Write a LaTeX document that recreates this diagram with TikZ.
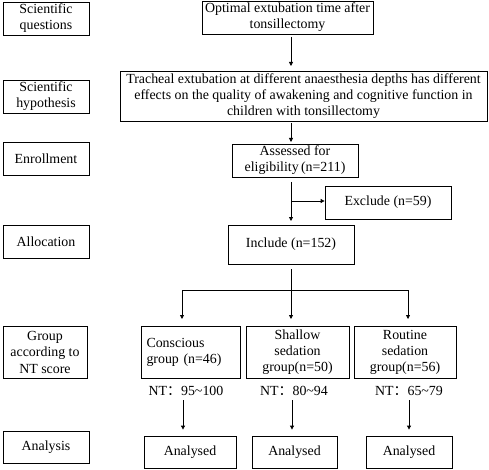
\documentclass[tikz,border=0pt]{standalone}
\usepackage{fontspec}
\setmainfont{Liberation Serif}
\newfontfamily\cjk{Noto Sans CJK SC}
\usetikzlibrary{arrows.meta}

\tikzset{
    stagebox/.style={draw, thick, align=center, inner sep=1pt, minimum width=86pt, minimum height=33pt},
    flowbox/.style={draw, thick, align=center, inner sep=1pt, minimum height=33pt},
    flowarrow/.style={thick, -{Triangle[length=4pt, width=4pt]}},
    flowline/.style={thick},
}
\newcommand{\ntlabel}[1]{NT{\cjk ：}#1}

\begin{document}
\begin{tikzpicture}[x=1pt, y=-1pt, font=\fontsize{13.9}{16}\selectfont]
    \useasboundingbox (0,0) rectangle (489,470);
    % stages on the left
    \node[stagebox] (stQuestion) at (46, 18.5) {Scientific\\questions};
    \node[stagebox] (stHypothesis) at (46, 96.5) {Scientific\\hypothesis};
    \node[stagebox] (stEnroll) at (46, 158.5) {Enrollment};
    \node[stagebox] (stAlloc) at (46, 241.5) {Allocation};
    \node[stagebox, minimum width=84pt, minimum height=52pt, font=\fontsize{13.9}{16.5}\selectfont] (stGroup) at (45, 352) {Group\\according to\\NT score};
    \node[stagebox, minimum height=32pt] (stAnalysis) at (46, 447) {Analysis};
    % flow on the right
    \node[flowbox, minimum width=171pt] (question) at (287.5, 17.5) {Optimal extubation time after\\tonsillectomy};
    \node[flowbox, minimum width=367pt, minimum height=50pt] (hypothesis) at (303.5, 96) {Tracheal extubation at different anaesthesia depths has different\\effects on the quality of awakening and cognitive function in\\children with tonsillectomy};
    \node[flowbox, minimum width=126pt] (assessed) at (295, 160.5) {Assessed for\\eligibility\,(n=211)};
    \node[flowbox, minimum width=126pt] (exclude) at (388, 202.5) {Exclude (n=59)};
    \node[flowbox, minimum width=126pt, minimum height=39pt] (include) at (291, 244.5) {Include (n=152)};
    \node[flowbox, minimum width=99pt, minimum height=52pt, text width=88pt, align=left] (conscious) at (190.5, 352) {Conscious\\group (n=46)};
    \node[flowbox, minimum width=103pt, minimum height=52pt] (shallow) at (297.5, 352) {Shallow\\sedation\\group(n=50)};
    \node[flowbox, minimum width=102pt, minimum height=52pt] (routine) at (405, 352) {Routine\\sedation\\group(n=56)};
    \node (ntConscious) at (186, 391) {\ntlabel{95\textasciitilde100}};
    \node (ntShallow) at (294, 391) {\ntlabel{80\textasciitilde94}};
    \node (ntRoutine) at (409, 391) {\ntlabel{65\textasciitilde79}};
    \node[flowbox, minimum width=92pt, minimum height=32pt] (anConscious) at (190, 452) {Analysed};
    \node[flowbox, minimum width=85pt, minimum height=32pt] (anShallow) at (294.5, 452) {Analysed};
    \node[flowbox, minimum width=86pt, minimum height=32pt] (anRoutine) at (409, 452) {Analysed};
    % connectors
    \coordinate (qBottom) at (291, 37);
    \coordinate (hTop) at (291, 66);
    \coordinate (hBottom) at (291, 123);
    \coordinate (aTop) at (291, 142);
    \coordinate (eStart) at (291, 182);
    \coordinate (eBranch) at (291, 201);
    \coordinate (iTop) at (291, 221);
    \coordinate (iBottom) at (291, 269);
    \coordinate (split) at (291, 290);
    \coordinate (splitLeft) at (182, 290);
    \coordinate (splitRight) at (408, 290);
    \coordinate (cDown) at (183, 400);
    \coordinate (sDown) at (292, 400);
    \coordinate (rDown) at (409, 400);
    \draw[flowarrow] (qBottom) -- (hTop);
    \draw[flowarrow] (hBottom) -- (aTop);
    \draw[flowarrow] (eStart) -- (iTop);
    \draw[flowarrow] (eBranch) -- (eBranch -| exclude.west);
    \draw[flowline] (iBottom) -- (split);
    \draw[flowline] (splitLeft) -- (splitRight);
    \draw[flowarrow] (splitLeft) -- ++(0, 29);
    \draw[flowarrow] (split) -- ++(0, 29);
    \draw[flowarrow] (splitRight) -- ++(0, 29);
    \draw[flowarrow, shorten >=6pt] (cDown) -- (cDown |- anConscious.north);
    \draw[flowarrow, shorten >=6pt] (sDown) -- (sDown |- anShallow.north);
    \draw[flowarrow, shorten >=6pt] (rDown) -- (rDown |- anRoutine.north);
\end{tikzpicture}
\end{document}
